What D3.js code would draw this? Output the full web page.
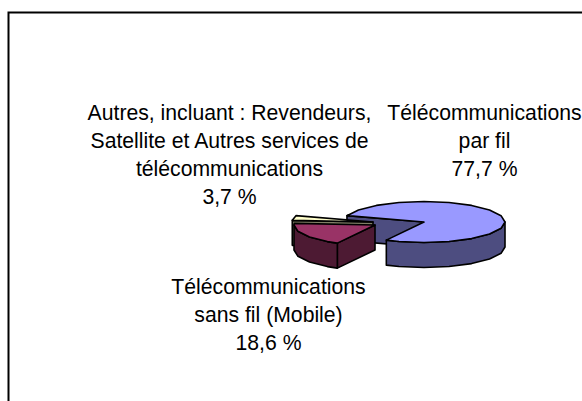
<!DOCTYPE html>
<html><head><meta charset="utf-8">
<script src="https://cdn.jsdelivr.net/npm/d3@7"></script>
<style>html,body{margin:0;padding:0;background:#fff;overflow:hidden}svg{display:block}</style>
</head><body><svg id="c" width="582" height="401"></svg>
<script>
const categories = ["Télécommunications par fil", "Télécommunications sans fil (Mobile)", "Autres"];
const values = [77.7, 18.6, 3.7];
const labelLines = [
  ["Télécommunications", "par fil", "77,7 %"],
  ["Télécommunications", "sans fil (Mobile)", "18,6 %"],
  ["Autres, incluant : Revendeurs,", "Satellite et Autres services de", "télécommunications", "3,7 %"]
];
const topColors = ["#9999ff", "#993366", "#ffffcc"];
const sideColors = ["#4d4d80", "#4d1a33", "#808066"];

const W = 582, H = 401;
const cx = 424, cy = 222, rx = 81, ry = 20.5, depth = 25;
const explode = [[0, 0], [-49, 3], [-51, 0]];
const labelAnchors = [[484.5, 112.5], [268.5, 286.5], [229.5, 112.5]];
const lineStep = 28;
const drawOrder = [0, 2, 1];

const svg = d3.select("#c");
svg.append("rect").attr("width", W).attr("height", H).attr("fill", "#fff");
svg.append("rect").attr("x", 8.5).attr("y", 12.5).attr("width", W + 20).attr("height", H + 20)
  .attr("fill", "none").attr("stroke", "#000").attr("stroke-width", 2);

const start = 288 * Math.PI / 180;
const arcs = d3.pie().sort(null).value(d => d).startAngle(start).endAngle(start + 2 * Math.PI)(values);
const sx = d3.scaleLinear().domain([-1, 1]).range([cx - rx, cx + rx]);
const sy = d3.scaleLinear().domain([-1, 1]).range([cy - ry, cy + ry]);
const pt = (a, off, dz = 0) => [sx(Math.sin(a)) + off[0], sy(-Math.cos(a)) + off[1] + dz];
const apex = (off, dz = 0) => [sx(0) + off[0], sy(0) + off[1] + dz];
const line = d3.line();
const step = 18 * Math.PI / 180;
const samples = (a0, a1) => {
  const r = [a0];
  for (let a = Math.ceil(a0 / step) * step; a < a1; a += step) if (a > a0) r.push(a);
  r.push(a1);
  return r;
};
const style = (s, fill) => s.attr("fill", fill).attr("stroke", "#000").attr("stroke-width", 1.6).attr("stroke-linejoin", "round");

const g = svg.append("g");
const TAU = 2 * Math.PI;
drawOrder.forEach(i => {
  const d = arcs[i], off = explode[i];
  // cut face on the slice's starting edge, which faces the viewer
  style(g.append("path").attr("d", line([apex(off), pt(d.startAngle, off), pt(d.startAngle, off, depth), apex(off, depth)]) + "Z"), sideColors[i]);
  // outer rim: front half only (90 deg to 270 deg, wrapped)
  for (const k of [0, 1, 2]) {
    const lo = Math.max(d.startAngle, TAU * k + Math.PI / 2), hi = Math.min(d.endAngle, TAU * k + 3 * Math.PI / 2);
    if (hi > lo) {
      const a = samples(lo, hi);
      const poly = a.map(t => pt(t, off)).concat(a.slice().reverse().map(t => pt(t, off, depth)));
      style(g.append("path").attr("d", line(poly) + "Z"), sideColors[i]);
    }
  }
  const top = [apex(off)].concat(samples(d.startAngle, d.endAngle).map(t => pt(t, off)));
  style(g.append("path").attr("d", line(top) + "Z"), topColors[i]);
});

labelLines.forEach((lines, i) => {
  const t = svg.append("text").attr("text-anchor", "middle")
    .attr("font-family", "'Liberation Sans', Arial, sans-serif").attr("font-size", 21.2).attr("fill", "#000");
  lines.forEach((l, j) => t.append("tspan").attr("x", labelAnchors[i][0])
    .attr("y", labelAnchors[i][1] + j * lineStep).attr("dy", "0.35em").text(l));
});
</script></body></html>
